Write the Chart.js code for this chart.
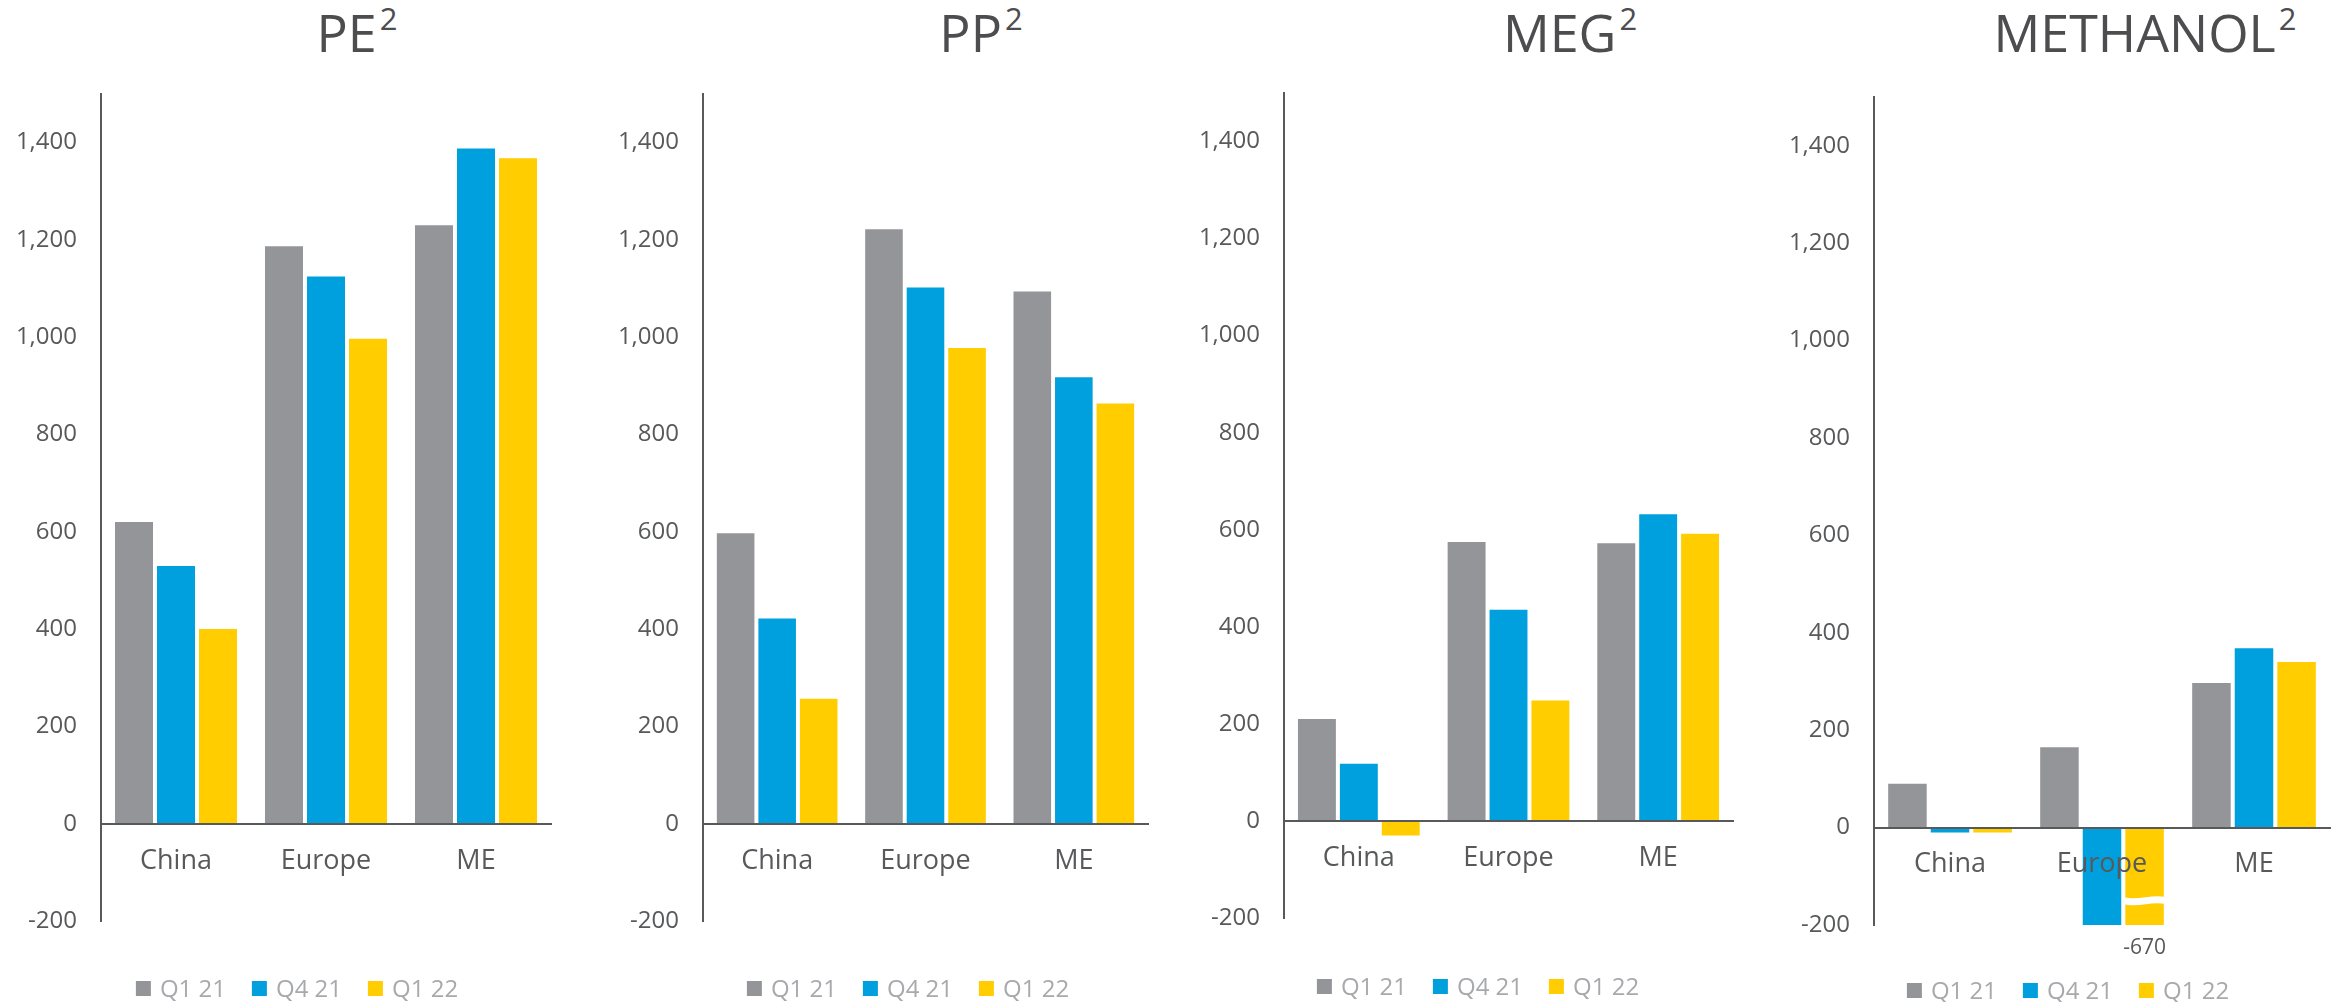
<!DOCTYPE html>
<html>
<head>
<meta charset="utf-8">
<script src="https://cdn.jsdelivr.net/npm/chart.js@4.4.1/dist/chart.umd.min.js"></script>
<style>
  html, body { margin: 0; padding: 0; width: 2346px; height: 1002px; overflow: hidden; background: #fff; }
  canvas { position: absolute; top: 0; }
  .title {
    position: absolute; top: 6px; transform: translateX(-50%);
    font-family: 'Open Sans', sans-serif; font-weight: 400; font-size: 52px; line-height: 52px;
    color: #4d4d4f; white-space: nowrap;
  }
  .title sup { font-size: 31px; position: relative; top: -22px; vertical-align: baseline; margin-left: 3px; }
  .legend {
    position: absolute; transform: translateX(-50%); display: flex; align-items: center;
    font-family: 'Open Sans', sans-serif; font-weight: 400; font-size: 24px; line-height: 24px;
    color: #a7a9ac; white-space: nowrap;
  }
  .legend .item { display: flex; align-items: center; margin-right: 26px; }
  .legend .item:last-child { margin-right: 0; }
  .legend .box { width: 15px; height: 15px; margin-right: 9px; }
</style>
</head>
<body>
<div class="title" style="left:357px">PE<sup>2</sup></div>
<div class="title" style="left:981px">PP<sup>2</sup></div>
<div class="title" style="left:1570px">MEG<sup>2</sup></div>
<div class="title" style="left:2145px">METHANOL<sup>2</sup></div>
<canvas id="pe"></canvas>
<canvas id="pp"></canvas>
<canvas id="meg"></canvas>
<canvas id="methanol"></canvas>
<script>
// categories and series
const categories = ['China', 'Europe', 'ME'];
const seriesNames = ['Q1 21', 'Q4 21', 'Q1 22'];
const seriesColors = ['#939598', '#00a0df', '#ffcd00'];

// values
const peQ121 = [620, 1187, 1230];
const peQ421 = [530, 1125, 1388];
const peQ122 = [400, 997, 1368];

const ppQ121 = [597, 1222, 1094];
const ppQ421 = [422, 1102, 918];
const ppQ122 = [257, 978, 864];

const megQ121 = [210, 575, 572];
const megQ421 = [118, 435, 632];
const megQ122 = [-30, 248, 592];

const methQ121 = [90, 165, 297];
const methQ421 = [-10, -205, 368];
const methQ122 = [-10, -670, 340];

const yTicks = [-200, 0, 200, 400, 600, 800, 1000, 1200, 1400];
const yMin = -200;
const yMax = 1500;

const axisColor = '#58595b';
const fontFamily = "'Open Sans', sans-serif";

// white break + value label on a bar that runs off the axis
const breakMarkPlugin = {
  id: 'breakMark',
  afterDatasetsDraw(chart, args, opts) {
    if (!opts || opts.datasetIndex === undefined) return;
    const bar = chart.getDatasetMeta(opts.datasetIndex).data[opts.index];
    const value = chart.data.datasets[opts.datasetIndex].data[opts.index];
    const area = chart.chartArea;
    const ctx = chart.ctx;
    const half = bar.width / 2 + 2;
    const y = area.bottom - 28;
    ctx.save();
    ctx.fillStyle = '#fff';
    ctx.beginPath();
    ctx.moveTo(bar.x - half, y);
    ctx.bezierCurveTo(bar.x - half / 3, y + 4, bar.x + half / 3, y - 3, bar.x + half, y);
    ctx.lineTo(bar.x + half, y + 7);
    ctx.bezierCurveTo(bar.x + half / 3, y + 4, bar.x - half / 3, y + 11, bar.x - half, y + 7);
    ctx.closePath();
    ctx.fill();
    ctx.fillStyle = axisColor;
    ctx.font = '21px ' + fontFamily;
    ctx.textAlign = 'center';
    ctx.textBaseline = 'middle';
    ctx.fillText(String(value), bar.x, area.bottom + 23);
    ctx.restore();
  }
};

function makeLegend(center, middleY) {
  const lg = document.createElement('div');
  lg.className = 'legend';
  lg.style.left = center + 'px';
  lg.style.top = (middleY - 12) + 'px';
  seriesNames.forEach((name, i) => {
    const item = document.createElement('div');
    item.className = 'item';
    item.innerHTML = `<span class="box" style="background:${seriesColors[i]}"></span><span>${name}</span>`;
    lg.appendChild(item);
  });
  document.body.appendChild(lg);
}

function makeChart(id, series, layout, breakMark) {
  const canvas = document.getElementById(id);
  canvas.width = layout.width;
  canvas.height = 1002;
  canvas.style.left = layout.left + 'px';

  makeLegend(layout.legendCenter, layout.legendY);

  return new Chart(canvas, {
    type: 'bar',
    data: {
      labels: categories,
      datasets: seriesNames.map((name, i) => ({
        label: name,
        data: series[i],
        backgroundColor: seriesColors[i],
        borderWidth: 0,
        clip: 0,
        categoryPercentage: 0.84,
        barPercentage: 0.905
      }))
    },
    options: {
      responsive: false,
      animation: false,
      devicePixelRatio: 1,
      layout: { padding: { top: layout.top, right: layout.padRight, left: 0, bottom: 1002 - layout.bottom } },
      scales: {
        x: {
          position: { y: 0 },
          grid: { display: false, drawTicks: false },
          border: { display: true, color: axisColor, width: 2, z: 1 },
          ticks: { z: 1, padding: 21, color: axisColor, font: { family: fontFamily, size: 27 } }
        },
        y: {
          min: yMin,
          max: yMax,
          grid: { display: false, drawTicks: false },
          border: { display: true, color: axisColor, width: 2 },
          ticks: { padding: 24, color: axisColor, font: { family: fontFamily, size: 24 } },
          afterBuildTicks: scale => { scale.ticks = yTicks.map(v => ({ value: v })); },
          afterFit: scale => { scale.width = layout.axisWidth; }
        }
      },
      plugins: {
        legend: { display: false },
        tooltip: { enabled: false },
        breakMark: breakMark || {}
      }
    },
    plugins: [breakMarkPlugin]
  });
}

makeChart('pe', [peQ121, peQ421, peQ122],
  { left: 0, width: 594, top: 94, bottom: 921, padRight: 43, axisWidth: 101, legendCenter: 297, legendY: 988 });
makeChart('pp', [ppQ121, ppQ421, ppQ122],
  { left: 602, width: 612, top: 94, bottom: 921, padRight: 66, axisWidth: 101, legendCenter: 908, legendY: 988 });
makeChart('meg', [megQ121, megQ421, megQ122],
  { left: 1183, width: 590, top: 93, bottom: 918, padRight: 40, axisWidth: 101, legendCenter: 1478, legendY: 986 });
makeChart('methanol', [methQ121, methQ421, methQ122],
  { left: 1773, width: 590, top: 97, bottom: 925, padRight: 33, axisWidth: 101, legendCenter: 2068, legendY: 990 },
  { datasetIndex: 2, index: 1 });
</script>
</body>
</html>
